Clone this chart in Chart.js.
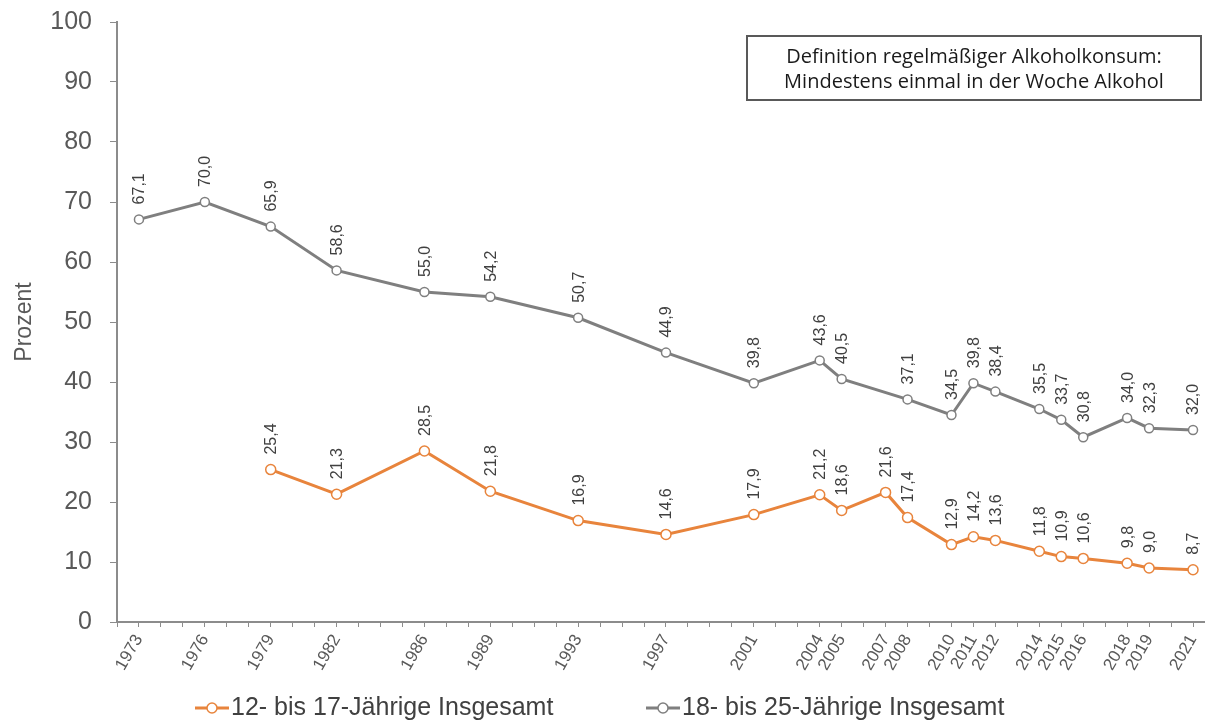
<!DOCTYPE html>
<html>
<head>
<meta charset="utf-8">
<script src="https://cdn.jsdelivr.net/npm/chart.js@4.4.0/dist/chart.umd.min.js"></script>
<style>
  html, body { margin: 0; padding: 0; background: #fff; }
</style>
</head>
<body>
<canvas id="alkohol" width="1205" height="722"></canvas>
<script>
// Regelmäßiger Alkoholkonsum, Angaben in Prozent
const yearLabels = [1973, 1976, 1979, 1982, 1986, 1989, 1993, 1997, 2001, 2004, 2005,
  2007, 2008, 2010, 2011, 2012, 2014, 2015, 2016, 2018, 2019, 2021];

const jugendYears = [1979, 1982, 1986, 1989, 1993, 1997, 2001, 2004, 2005, 2007, 2008,
  2010, 2011, 2012, 2014, 2015, 2016, 2018, 2019, 2021];
const jugendValues = [25.4, 21.3, 28.5, 21.8, 16.9, 14.6, 17.9, 21.2, 18.6, 21.6, 17.4,
  12.9, 14.2, 13.6, 11.8, 10.9, 10.6, 9.8, 9.0, 8.7];

const erwachsenYears = [1973, 1976, 1979, 1982, 1986, 1989, 1993, 1997, 2001, 2004, 2005,
  2008, 2010, 2011, 2012, 2014, 2015, 2016, 2018, 2019, 2021];
const erwachsenValues = [67.1, 70.0, 65.9, 58.6, 55.0, 54.2, 50.7, 44.9, 39.8, 43.6, 40.5,
  37.1, 34.5, 39.8, 38.4, 35.5, 33.7, 30.8, 34.0, 32.3, 32.0];

const seriesNames = ['12- bis 17-Jährige Insgesamt', '18- bis 25-Jährige Insgesamt'];
const seriesColors = ['#E8843C', '#7F7F7F'];
const noteLines = ['Definition regelmäßiger Alkoholkonsum:', 'Mindestens einmal in der Woche Alkohol'];

const FONT = '"Liberation Sans", Arial, sans-serif';
const toPoints = (xs, ys) => xs.map((x, i) => ({ x: x, y: ys[i] }));

// Werte senkrecht über die Punkte schreiben
const valueLabels = {
  id: 'valueLabels',
  afterDatasetsDraw(chart) {
    const ctx = chart.ctx;
    ctx.save();
    ctx.font = '16px ' + FONT;
    ctx.fillStyle = '#404040';
    ctx.textAlign = 'left';
    ctx.textBaseline = 'middle';
    chart.data.datasets.forEach((ds, i) => {
      chart.getDatasetMeta(i).data.forEach((pt, j) => {
        ctx.save();
        ctx.translate(pt.x + 1, pt.y - 15);
        ctx.rotate(-Math.PI / 2);
        ctx.fillText(ds.data[j].y.toFixed(1).replace('.', ','), 0, 0);
        ctx.restore();
      });
    });
    ctx.restore();
  }
};

// Kasten oben rechts
const noteBox = {
  id: 'noteBox',
  afterDraw(chart) {
    const ctx = chart.ctx;
    ctx.save();
    ctx.fillStyle = '#fff';
    ctx.fillRect(747, 36, 454, 64);
    ctx.strokeStyle = '#595959';
    ctx.lineWidth = 2;
    ctx.strokeRect(747, 36, 454, 64);
    ctx.fillStyle = '#1a1a1a';
    ctx.font = '20px "Open Sans", sans-serif';
    ctx.textAlign = 'center';
    ctx.textBaseline = 'middle';
    ctx.fillText(noteLines[0], 974, 57);
    ctx.fillText(noteLines[1], 974, 82);
    ctx.restore();
  }
};

// Legende unten, Linie mit Kreis
const bottomLegend = {
  id: 'bottomLegend',
  afterDraw(chart) {
    const ctx = chart.ctx;
    const items = [{ x: 195 }, { x: 646 }];
    ctx.save();
    ctx.font = '25px ' + FONT;
    ctx.textBaseline = 'middle';
    items.forEach((it, i) => {
      const y = 708;
      ctx.strokeStyle = seriesColors[i];
      ctx.lineWidth = 3;
      ctx.beginPath();
      ctx.moveTo(it.x, y);
      ctx.lineTo(it.x + 34, y);
      ctx.stroke();
      ctx.beginPath();
      ctx.arc(it.x + 17, y, 5, 0, Math.PI * 2);
      ctx.fillStyle = '#fff';
      ctx.fill();
      ctx.lineWidth = 1.5;
      ctx.stroke();
      ctx.fillStyle = '#404040';
      ctx.fillText(seriesNames[i], it.x + 36, y);
    });
    ctx.restore();
  }
};

const ctx = document.getElementById('alkohol');

new Chart(ctx, {
  type: 'line',
  data: {
    datasets: [
      {
        label: seriesNames[0],
        data: toPoints(jugendYears, jugendValues),
        borderColor: seriesColors[0],
        borderWidth: 3,
        pointRadius: 5,
        pointBackgroundColor: '#fff',
        pointBorderColor: seriesColors[0],
        pointBorderWidth: 1.5,
        tension: 0
      },
      {
        label: seriesNames[1],
        data: toPoints(erwachsenYears, erwachsenValues),
        borderColor: seriesColors[1],
        borderWidth: 3,
        pointRadius: 4.5,
        pointBackgroundColor: '#fff',
        pointBorderColor: seriesColors[1],
        pointBorderWidth: 1.5,
        tension: 0
      }
    ]
  },
  options: {
    responsive: false,
    devicePixelRatio: 1,
    animation: false,
    layout: { autoPadding: false, padding: { top: 22, right: 1, bottom: 40, left: 0 } },
    plugins: {
      legend: { display: false },
      tooltip: { enabled: false }
    },
    scales: {
      x: {
        type: 'linear',
        min: 1972,
        max: 2021.5,
        afterBuildTicks: (scale) => {
          const t = [];
          for (let y = 1972; y <= 2021; y++) t.push({ value: y });
          scale.ticks = t;
        },
        afterFit: (scale) => {
          scale.height = 60;
          scale.paddingLeft = 0;
          scale.paddingRight = 0;
        },
        border: { display: true, color: '#8c8c8c', width: 2 },
        grid: { drawOnChartArea: false, drawTicks: true, tickLength: 5, color: '#8c8c8c' },
        ticks: {
          autoSkip: false,
          minRotation: 60,
          maxRotation: 60,
          padding: 4,
          color: '#595959',
          font: { family: FONT, size: 17 },
          callback: (v) => yearLabels.includes(v) ? String(v) : ''
        }
      },
      y: {
        min: 0,
        max: 100,
        afterFit: (scale) => {
          scale.width = 117;
          scale.paddingTop = 0;
          scale.paddingBottom = 0;
        },
        border: { display: true, color: '#8c8c8c', width: 2 },
        grid: { drawOnChartArea: false, drawTicks: true, tickLength: 7, color: '#8c8c8c' },
        ticks: {
          stepSize: 10,
          padding: 18,
          color: '#595959',
          font: { family: FONT, size: 25 }
        },
        title: {
          display: true,
          text: 'Prozent',
          color: '#595959',
          font: { family: FONT, size: 23 },
          padding: { top: 11, bottom: 0 }
        }
      }
    }
  },
  plugins: [valueLabels, noteBox, bottomLegend]
});
</script>
</body>
</html>
